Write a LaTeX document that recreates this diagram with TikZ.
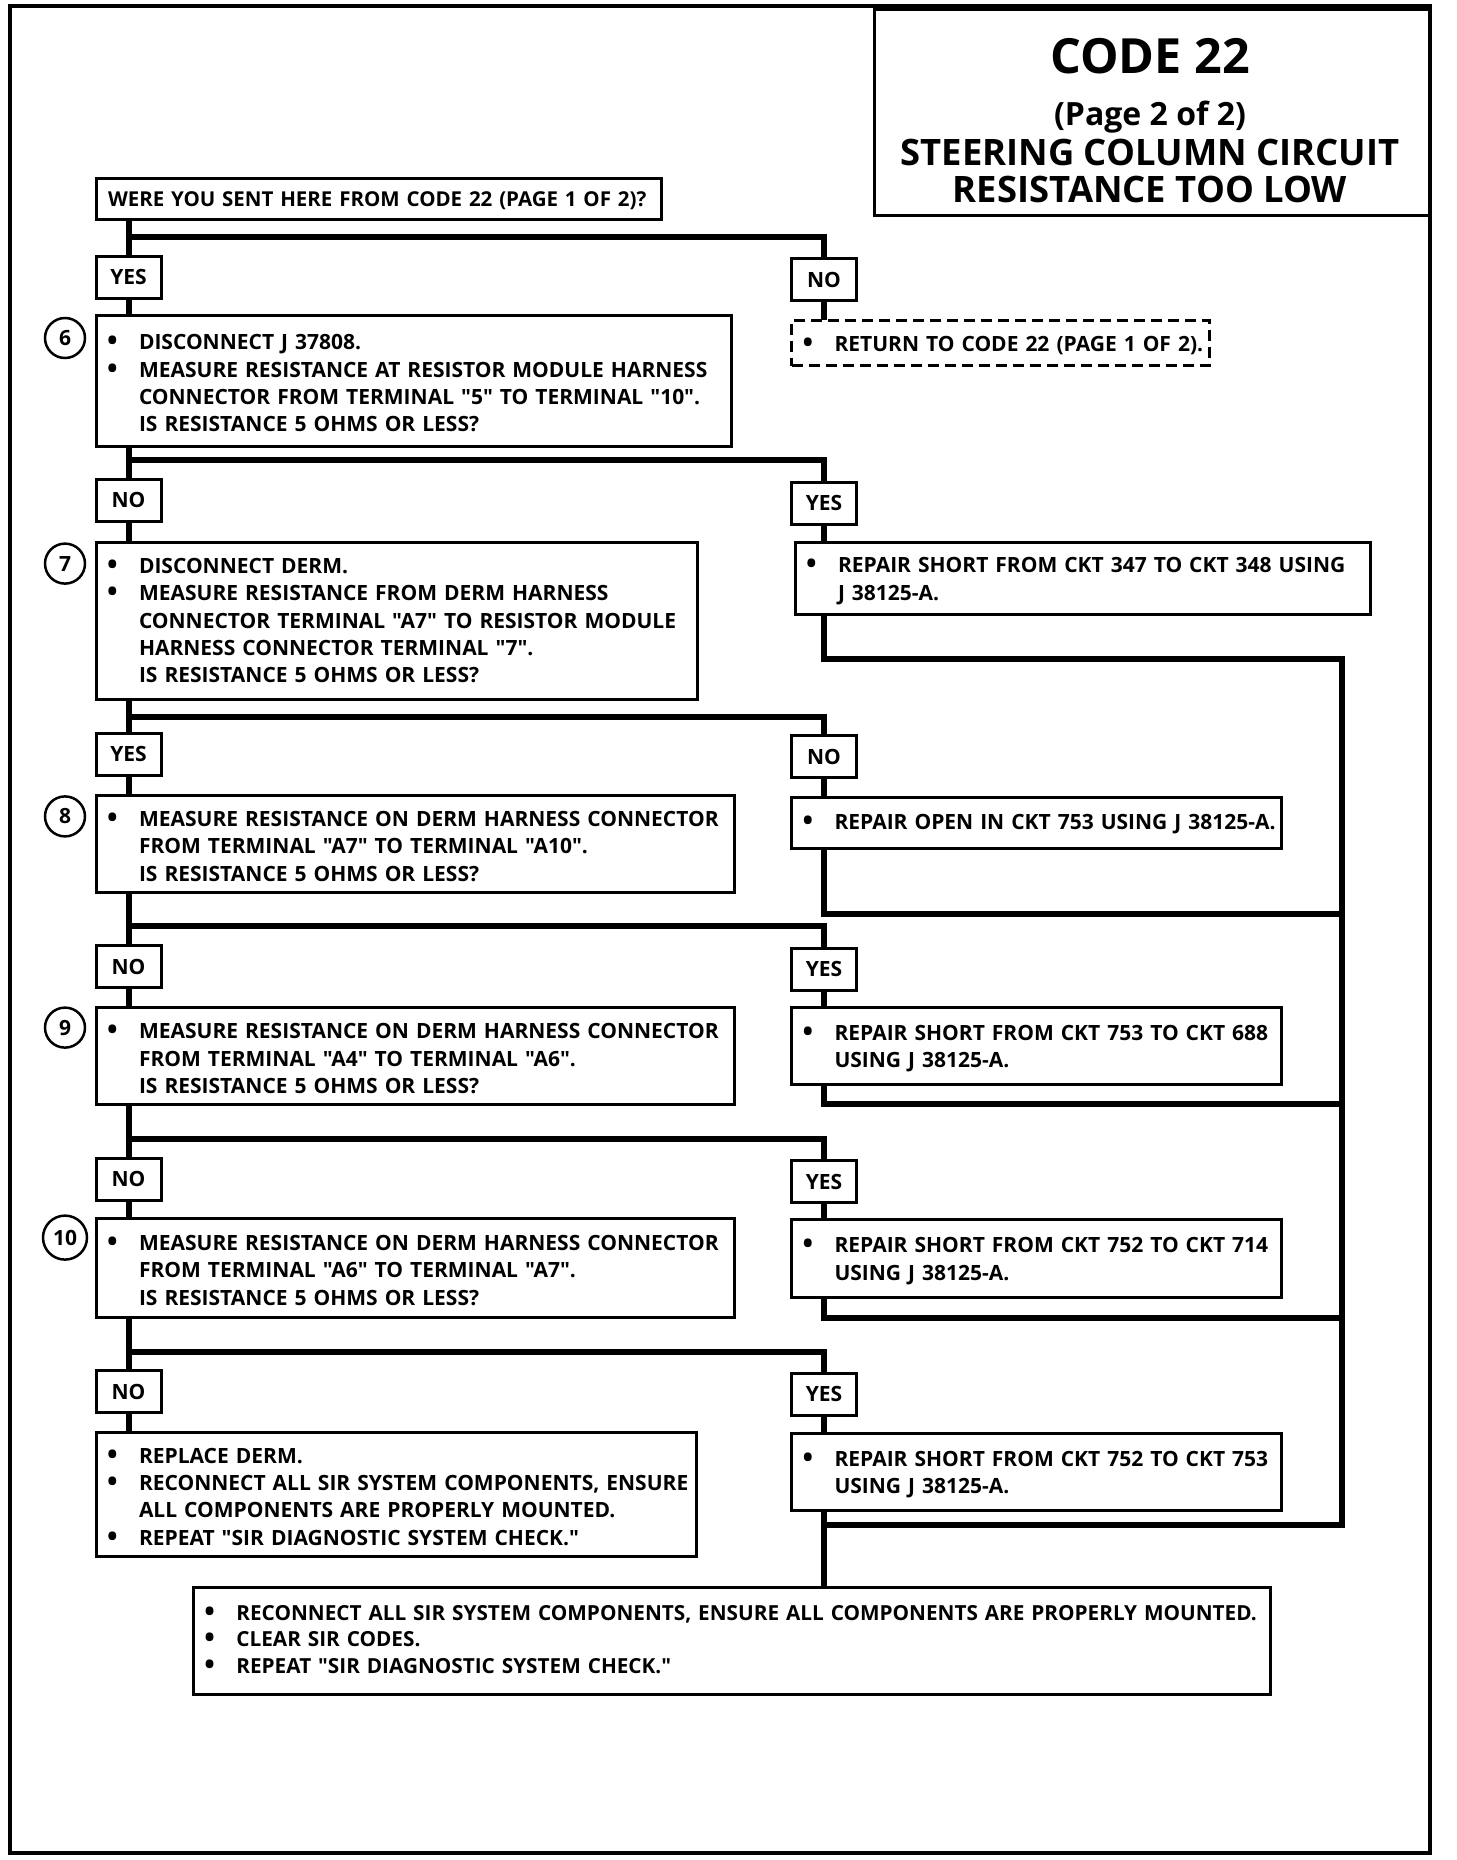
\documentclass[tikz,border=0pt]{standalone}
\usepackage{fontspec}
\setmainfont{Open Sans}
\newfontfamily\osf{Open Sans}
\newcommand\bodyf{\osf\fontsize{21pt}{27.4pt}\selectfont\bfseries}
\newcommand\itm[1]{\par\noindent\makebox[31pt][l]{\kern-1pt{\fontsize{28pt}{0pt}\selectfont\raisebox{-1pt}{•}}}\mbox{#1}}
\newcommand\cnt[1]{\par\noindent\hspace*{31pt}\mbox{#1}}
\newcommand\bxgap[1]{\par\vspace{#1}}
\begin{document}
\begin{tikzpicture}[x=1pt,y=-1pt,
  box/.style={draw, line width=3pt, anchor=north west, inner xsep=12pt, inner ysep=0pt, outer sep=0pt, align=left, font=\bodyf, execute at end node={\bxgap{7pt}}},
  lift/.style={execute at end node={\bxgap{#1}}},
  lab/.style={draw, line width=3pt, minimum width=65pt, minimum height=42pt, inner sep=0pt, outer sep=0pt, anchor=north west, font=\bodyf},
  conn/.style={line width=6pt, line join=miter},
  num/.style={draw, circle, line width=2.5pt, minimum size=40pt, inner sep=0pt, font=\bodyf},
  ttl/.style={anchor=base, inner sep=0pt}]
\useasboundingbox (0,0) rectangle (1456,1860);
% frame
\draw[line width=4pt] (9.5,6) rectangle (1430,1853);
% title
\node[draw, line width=3pt, anchor=north west, minimum width=555.5pt, minimum height=205.5pt, inner sep=0pt, outer sep=0pt] (title) at (874.5,9.5) {};
\node[ttl, font=\osf\fontsize{48.5pt}{50pt}\selectfont\bfseries] (t1) at (1150,74) {CODE 22};
\node[ttl, font=\osf\fontsize{32pt}{34pt}\selectfont\bfseries] (t2) at (1150,125) {(Page 2 of 2)};
\node[ttl, font=\osf\fontsize{36.4pt}{38pt}\selectfont\bfseries] (t3) at (1150,165.5) {STEERING COLUMN CIRCUIT};
\node[ttl, font=\osf\fontsize{36.4pt}{38pt}\selectfont\bfseries] (t4) at (1150,202) {RESISTANCE TOO LOW};

% question
\node[box, lift=-19pt, minimum width=565pt, minimum height=41.5pt, text width=541pt, font=\osf\fontsize{20.5pt}{27pt}\selectfont\bfseries] (q) at (96,178) {\mbox{WERE YOU SENT HERE FROM CODE 22 (PAGE 1 OF 2)?}};

% level 1
\node[lab] (y1) at (96,256) {YES};
\node[lab] (n1) at (791.5,258.7) {NO};
\node[box, minimum width=635pt, minimum height=130.4pt, text width=611pt] (s6) at (96,315.6)
 {\itm{DISCONNECT J 37808.}\itm{MEASURE RESISTANCE AT RESISTOR MODULE HARNESS}\cnt{CONNECTOR FROM TERMINAL "5" TO TERMINAL "10".}\cnt{IS RESISTANCE 5 OHMS OR LESS?}};
\node[box, dash pattern=on 11pt off 6pt, minimum width=417.5pt, minimum height=45.5pt, text width=393.5pt] (ret) at (791.5,320)
 {\itm{RETURN TO CODE 22 (PAGE 1 OF 2).}};
\node[num] (c6) at (65,338) {6};

% level 2
\node[lab] (n2) at (96,479) {NO};
\node[lab] (y2) at (791.5,482) {YES};
\node[box, lift=5pt, minimum width=601.7pt, minimum height=157pt, text width=577.7pt] (s7) at (96,542)
 {\itm{DISCONNECT DERM.}\itm{MEASURE RESISTANCE FROM DERM HARNESS}\cnt{CONNECTOR TERMINAL "A7" TO RESISTOR MODULE}\cnt{HARNESS CONNECTOR TERMINAL "7".}\cnt{IS RESISTANCE 5 OHMS OR LESS?}};
\node[box, minimum width=575.5pt, minimum height=72.7pt, text width=551.5pt] (r347) at (795,542)
 {\itm{REPAIR SHORT FROM CKT 347 TO CKT 348 USING}\cnt{J 38125-A.}};
\node[num] (c7) at (65,563.6) {7};

% level 3
\node[lab] (y3) at (96,733) {YES};
\node[lab] (n3) at (791.5,735.7) {NO};
\node[box, minimum width=638.5pt, minimum height=97.3pt, text width=614.5pt] (s8) at (96,795)
 {\itm{MEASURE RESISTANCE ON DERM HARNESS CONNECTOR}\cnt{FROM TERMINAL "A7" TO TERMINAL "A10".}\cnt{IS RESISTANCE 5 OHMS OR LESS?}};
\node[box, lift=3pt, minimum width=490pt, minimum height=51pt, text width=466pt] (rop) at (791.5,797.4)
 {\itm{REPAIR OPEN IN CKT 753 USING J 38125-A.}};
\node[num] (c8) at (65,816.4) {8};

% level 4
\node[lab] (n4) at (96,945.7) {NO};
\node[lab] (y4) at (791.5,948) {YES};
\node[box, minimum width=638.5pt, minimum height=97.3pt, text width=614.5pt] (s9) at (96,1007.4)
 {\itm{MEASURE RESISTANCE ON DERM HARNESS CONNECTOR}\cnt{FROM TERMINAL "A4" TO TERMINAL "A6".}\cnt{IS RESISTANCE 5 OHMS OR LESS?}};
\node[box, minimum width=490pt, minimum height=77.2pt, text width=466pt] (r688) at (791.5,1007.4)
 {\itm{REPAIR SHORT FROM CKT 753 TO CKT 688}\cnt{USING J 38125-A.}};
\node[num] (c9) at (65,1027.6) {9};

% level 5
\node[lab] (n5) at (96,1158) {NO};
\node[lab] (y5) at (791.5,1160.5) {YES};
\node[box, minimum width=638.5pt, minimum height=98.4pt, text width=614.5pt] (s10) at (96,1218.6)
 {\itm{MEASURE RESISTANCE ON DERM HARNESS CONNECTOR}\cnt{FROM TERMINAL "A6" TO TERMINAL "A7".}\cnt{IS RESISTANCE 5 OHMS OR LESS?}};
\node[box, minimum width=490pt, minimum height=77.2pt, text width=466pt] (r714) at (791.5,1219.8)
 {\itm{REPAIR SHORT FROM CKT 752 TO CKT 714}\cnt{USING J 38125-A.}};
\node[num, minimum size=44pt] (c10) at (65,1237.6) {10};

% level 6
\node[lab] (n6) at (96,1370.5) {NO};
\node[lab] (y6) at (791.5,1373) {YES};
\node[box, minimum width=600.5pt, minimum height=124.8pt, text width=576.5pt] (rep) at (96,1432)
 {\itm{REPLACE DERM.}\itm{RECONNECT ALL SIR SYSTEM COMPONENTS, ENSURE}\cnt{ALL COMPONENTS ARE PROPERLY MOUNTED.}\itm{REPEAT "SIR DIAGNOSTIC SYSTEM CHECK."}};
\node[box, minimum width=490pt, minimum height=77.1pt, text width=466pt] (r753) at (791.5,1433.4)
 {\itm{REPAIR SHORT FROM CKT 752 TO CKT 753}\cnt{USING J 38125-A.}};

% final
\node[box, lift=7pt, minimum width=1077.4pt, minimum height=106.8pt, text width=1053.4pt, font=\osf\fontsize{20.75pt}{26.7pt}\selectfont\bfseries] (fin) at (193.4,1587.7)
 {\itm{RECONNECT ALL SIR SYSTEM COMPONENTS, ENSURE ALL COMPONENTS ARE PROPERLY MOUNTED.}\itm{CLEAR SIR CODES.}\itm{REPEAT "SIR DIAGNOSTIC SYSTEM CHECK."}};

% junction coordinates
\coordinate (j1) at (125.5,237);
\coordinate (j2) at (125.5,460);
\coordinate (j3) at (125.5,716.7);
\coordinate (j4) at (125.5,925.5);
\coordinate (j5) at (125.5,1139);
\coordinate (j6) at (125.5,1351.5);
\coordinate (b1) at (1342,658.6);
\coordinate (b2) at (1342,913.7);
\coordinate (b3) at (1342,1103.5);
\coordinate (b4) at (1342,1318.3);
\coordinate (b5) at (1342,1524.8);

% connectors level 1
\draw[conn] (q.south -| y1) -- (y1.north);
\draw[conn] (j1) -| (n1.north);
\draw[conn] (y1.south) -- (y1.south |- s6.north);
\draw[conn] (n1.south) -- (n1.south |- ret.north);
% level 2
\draw[conn] (s6.south -| n2) -- (n2.north);
\draw[conn] (j2) -| (y2.north);
\draw[conn] (n2.south) -- (n2.south |- s7.north);
\draw[conn] (y2.south) -- (y2.south |- r347.north);
% level 3
\draw[conn] (s7.south -| y3) -- (y3.north);
\draw[conn] (j3) -| (n3.north);
\draw[conn] (y3.south) -- (y3.south |- s8.north);
\draw[conn] (n3.south) -- (n3.south |- rop.north);
% level 4
\draw[conn] (s8.south -| n4) -- (n4.north);
\draw[conn] (j4) -| (y4.north);
\draw[conn] (n4.south) -- (n4.south |- s9.north);
\draw[conn] (y4.south) -- (y4.south |- r688.north);
% level 5
\draw[conn] (s9.south -| n5) -- (n5.north);
\draw[conn] (j5) -| (y5.north);
\draw[conn] (n5.south) -- (n5.south |- s10.north);
\draw[conn] (y5.south) -- (y5.south |- r714.north);
% level 6
\draw[conn] (s10.south -| n6) -- (n6.north);
\draw[conn] (j6) -| (y6.north);
\draw[conn] (n6.south) -- (n6.south |- rep.north);
\draw[conn] (y6.south) -- (y6.south |- r753.north);
% returns
\draw[conn] (r347.south -| y2) |- (b1) -- (b5) -- (b5 -| y6);
\draw[conn] (rop.south -| n3) |- (b2);
\draw[conn] (r688.south -| y4) |- (b3);
\draw[conn] (r714.south -| y5) |- (b4);
\draw[conn] (r753.south -| y6) -- (fin.north -| y6);
\end{tikzpicture}
\end{document}
